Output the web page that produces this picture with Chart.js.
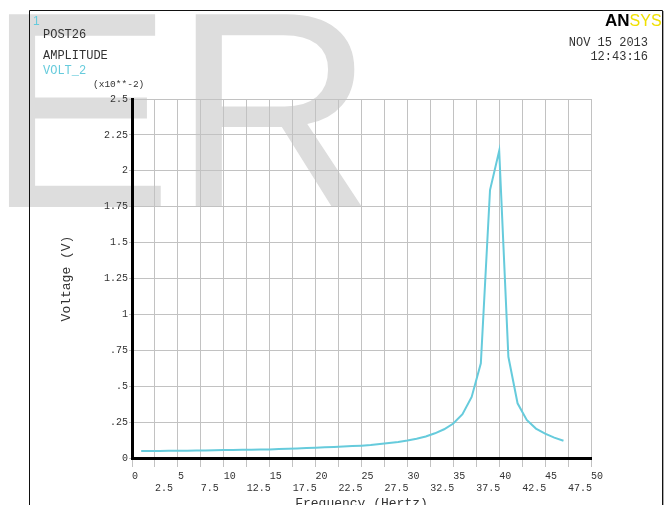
<!DOCTYPE html>
<html>
<head>
<meta charset="utf-8">
<script src="https://cdn.jsdelivr.net/npm/chart.js@4.4.1/dist/chart.umd.min.js"></script>
<style>
    html, body { margin: 0; padding: 0; background: #fff; }
    #wrap { width: 671px; height: 505px; position: relative; overflow: hidden; }
</style>
</head>
<body>
<div id="wrap"><canvas id="ampChart" width="671" height="505"></canvas></div>
<script>
// frequency (Hz) and amplitude of VOLT_2 (x10**-2 V)
const frequencies = [1, 2, 3, 4, 5, 6, 7, 8, 9, 10, 11, 12, 13, 14, 15, 16, 17, 18, 19, 20,
    21, 22, 23, 24, 25, 26, 27, 28, 29, 30, 31, 32, 33, 34, 35, 36, 37, 38, 39, 40,
    41, 42, 43, 44, 45, 46, 47];
const voltages = [0.048, 0.049, 0.049, 0.050, 0.050, 0.051, 0.052, 0.053, 0.054, 0.055,
    0.056, 0.057, 0.058, 0.059, 0.060, 0.062, 0.064, 0.066, 0.069, 0.072,
    0.074, 0.077, 0.080, 0.083, 0.086, 0.090, 0.097, 0.104, 0.112, 0.122,
    0.134, 0.150, 0.172, 0.200, 0.240, 0.305, 0.425, 0.660, 1.866, 2.140,
    0.705, 0.381, 0.265, 0.205, 0.170, 0.142, 0.120];

const xTickLabels = ['0', '2.5', '5', '7.5', '10', '12.5', '15', '17.5', '20', '22.5', '25',
    '27.5', '30', '32.5', '35', '37.5', '40', '42.5', '45', '47.5', '50'];
const yTickLabels = ['0', '.25', '.5', '.75', '1', '1.25', '1.5', '1.75', '2', '2.25', '2.5'];

const curveColor = '#66cbdc';
const gridColor = '#c2c2c2';
const mono = "'Liberation Mono', 'DejaVu Sans Mono', monospace";

const points = frequencies.map((f, i) => ({ x: f, y: voltages[i] }));

// watermark, frame and the ANSYS header texts
const decorations = {
    id: 'decorations',
    beforeDraw(chart) {
        const ctx = chart.ctx;
        ctx.save();
        ctx.fillStyle = '#fff';
        ctx.fillRect(0, 0, chart.width, chart.height);

        ctx.fillStyle = '#dddddd';
        ctx.font = "280px 'Liberation Sans', Arial, sans-serif";
        ctx.textBaseline = 'alphabetic';
        ctx.fillText('ER', -14, 207);

        ctx.strokeStyle = '#111';
        ctx.lineWidth = 1;
        ctx.beginPath();
        ctx.moveTo(29.5, 505);
        ctx.lineTo(29.5, 10.5);
        ctx.lineTo(662.5, 10.5);
        ctx.lineTo(662.5, 505);
        ctx.stroke();
        ctx.strokeStyle = '#aaa';
        ctx.beginPath();
        ctx.moveTo(663.5, 11);
        ctx.lineTo(663.5, 505);
        ctx.stroke();
        ctx.restore();
    },
    afterDraw(chart) {
        const ctx = chart.ctx;
        ctx.save();
        ctx.textBaseline = 'middle';
        ctx.textAlign = 'left';

        ctx.fillStyle = curveColor;
        ctx.font = "12px 'Liberation Sans', sans-serif";
        ctx.fillText('1', 33, 22);

        ctx.fillStyle = '#333';
        ctx.font = '12px ' + mono;
        ctx.fillText('POST26', 43, 35);
        ctx.fillText('AMPLITUDE', 43, 56);
        ctx.fillStyle = curveColor;
        ctx.fillText('VOLT_2', 43, 71);
        ctx.fillStyle = '#333';
        ctx.font = '9.5px ' + mono;
        ctx.fillText('(x10**-2)', 93, 84);

        ctx.textAlign = 'right';
        ctx.font = '12px ' + mono;
        ctx.fillText('NOV 15 2013', 648, 43);
        ctx.fillText('12:43:16', 648, 57);

        ctx.textAlign = 'left';
        ctx.textBaseline = 'alphabetic';
        ctx.font = "bold 17px 'Liberation Sans', sans-serif";
        ctx.fillStyle = '#000';
        ctx.fillText('AN', 605, 26);
        const w = ctx.measureText('AN').width;
        ctx.font = "16px 'Liberation Sans', sans-serif";
        ctx.fillStyle = '#f0e000';
        ctx.fillText('SYS', 605 + w, 26);
        ctx.restore();
    }
};

const ctx = document.getElementById('ampChart').getContext('2d');
new Chart(ctx, {
    type: 'line',
    data: {
        datasets: [{
            label: 'VOLT_2',
            data: points,
            borderColor: curveColor,
            backgroundColor: curveColor,
            borderWidth: 2,
            pointRadius: 0,
            tension: 0,
            fill: false
        }]
    },
    options: {
        responsive: false,
        animation: false,
        devicePixelRatio: 1,
        layout: {
            padding: { left: 0, right: 80, top: 99, bottom: 0 }
        },
        plugins: {
            legend: { display: false },
            tooltip: { enabled: false }
        },
        scales: {
            x: {
                type: 'linear',
                min: 0,
                max: 50,
                afterFit: scale => { scale.height = 47; },
                ticks: {
                    stepSize: 2.5,
                    autoSkip: false,
                    maxRotation: 0,
                    align: 'start',
                    padding: 3,
                    color: '#333',
                    font: { family: mono, size: 10 },
                    callback: (value, index) => index % 2 === 0 ? [xTickLabels[index], ''] : ['', xTickLabels[index]]
                },
                grid: { color: gridColor, lineWidth: 1, tickLength: 9 },
                border: { color: '#000', width: 3 },
                title: {
                    display: true,
                    text: 'Frequency (Hertz)',
                    color: '#333',
                    font: { family: mono, size: 13 },
                    padding: { top: 0, bottom: -6 }
                }
            },
            y: {
                min: 0,
                max: 2.5,
                afterFit: scale => { scale.width = 132; },
                ticks: {
                    stepSize: 0.25,
                    autoSkip: false,
                    padding: 1,
                    color: '#333',
                    font: { family: mono, size: 10 },
                    callback: (value, index) => yTickLabels[index]
                },
                grid: { color: gridColor, lineWidth: 1, tickLength: 3 },
                border: { color: '#000', width: 3 },
                title: {
                    display: true,
                    text: 'Voltage (V)',
                    color: '#333',
                    font: { family: mono, size: 13 },
                    padding: { top: 59, bottom: 0 }
                }
            }
        }
    },
    plugins: [decorations]
});
</script>
</body>
</html>
